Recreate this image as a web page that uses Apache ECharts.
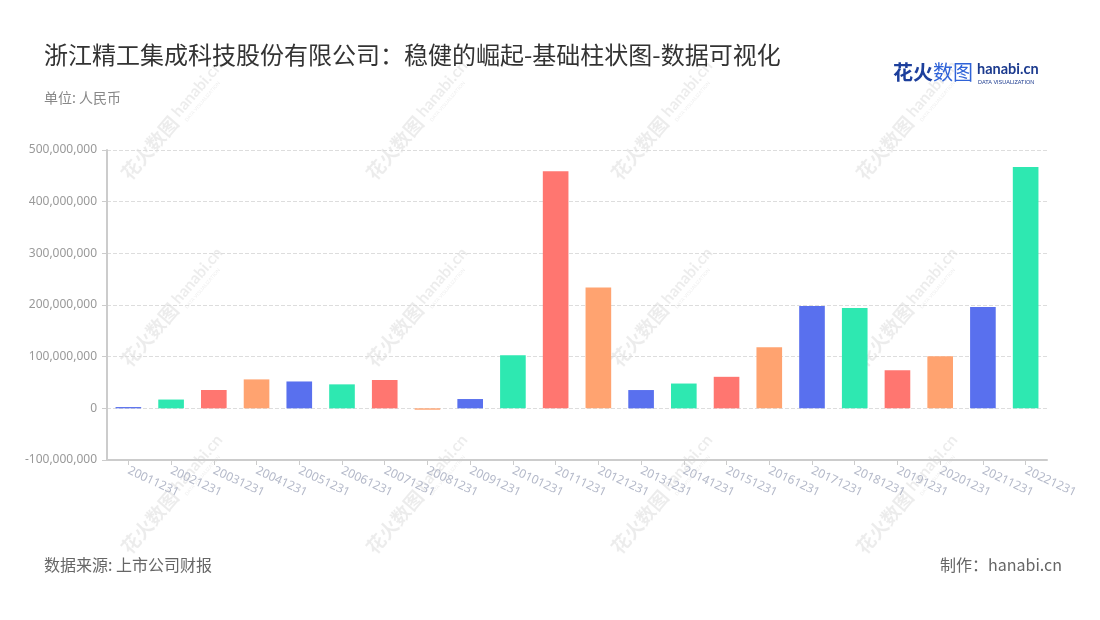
<!DOCTYPE html>
<html>
<head>
<meta charset="utf-8">
<script src="https://cdn.jsdelivr.net/npm/echarts@6/dist/echarts.min.js"></script>
<style>
html,body{margin:0;padding:0;background:#fff;}
#chart{width:1100px;height:620px;}
</style>
</head>
<body>
<div id="chart"></div>
<script>
// ---- data ----
var categories = ['20011231','20021231','20031231','20041231','20051231','20061231','20071231','20081231','20091231','20101231','20111231','20121231','20131231','20141231','20151231','20161231','20171231','20181231','20191231','20201231','20211231','20221231'];
var values = [2500000, 17000000, 35500000, 56000000, 52000000, 46400000, 54800000, -2700000, 18000000, 102600000, 459000000, 234000000, 35400000, 48000000, 61000000, 118000000, 198000000, 194000000, 73500000, 101000000, 196000000, 467000000];
var yTicks = [-100000000, 0, 100000000, 200000000, 300000000, 400000000, 500000000];
var titleText = '浙江精工集成科技股份有限公司：稳健的崛起-基础柱状图-数据可视化';
var unitText = '单位: 人民币';
var sourceText = '数据来源: 上市公司财报';
var makerText = '制作：hanabi.cn';
var palette = ['#5970ee', '#2ee8b1', '#ff7670', '#ffa370'];

var CJK = '"Noto Sans CJK SC", "Noto Sans", sans-serif';

function addCommas(v){
  var s = Math.abs(v).toString().replace(/\B(?=(\d{3})+(?!\d))/g, ',');
  return (v < 0 ? '-' : '') + s;
}

// watermark groups
var wmColor = 'rgba(0,0,0,0.075)';
function watermark(x, y){
  return {
    type: 'group', x: x, y: y, rotation: 0.86, silent: true, z: 0,
    children: [
      {type:'text', x:0, y:0, style:{text:'花火数图', fill:wmColor, font:'bold 19px ' + CJK, textVerticalAlign:'bottom'}},
      {type:'text', x:80, y:-4, style:{text:'hanabi.cn', fill:wmColor, font:'bold 16px Lato, sans-serif', textVerticalAlign:'bottom'}},
      {type:'text', x:82, y:3, style:{text:'DATA VISUALIZATION', fill:wmColor, font:'5px sans-serif', textVerticalAlign:'bottom'}}
    ]
  };
}
var graphics = [];
[132, 377, 622, 867].forEach(function(x){
  [183, 370, 557].forEach(function(y){ graphics.push(watermark(x, y)); });
});
// logo
graphics.push({type:'text', left:893, top:62, z:10, style:{text:'花火', fill:'#1d3f9c', font:'bold 20px ' + CJK}});
graphics.push({type:'text', left:933, top:62, z:10, style:{text:'数图', fill:'#2f63d8', font:'20px ' + CJK}});
graphics.push({type:'text', left:977, top:62, z:10, style:{text:'hanabi.cn', fill:'#1b3a8e', font:'bold 14.5px Lato, sans-serif'}});
graphics.push({type:'text', left:978, top:79, z:10, style:{text:'DATA VISUALIZATION', fill:'#1b3a8e', font:'5.5px sans-serif'}});
// footer
graphics.push({type:'text', left:44, top:557, z:10, style:{text:sourceText, fill:'#666', font:'16px ' + CJK}});
graphics.push({type:'text', right:38, top:557, z:10, style:{text:makerText, fill:'#666', font:'16px ' + CJK}});

var chart = echarts.init(document.getElementById('chart'));
chart.setOption({
  animation: false,
  backgroundColor: '#fff',
  color: palette,
  title: [
    {text: titleText, left: 39, top: 38, textStyle:{fontSize:24, fontWeight:'normal', color:'#333', fontFamily:CJK}},
    {text: unitText, left: 39, top: 86, textStyle:{fontSize:14, fontWeight:'normal', color:'#888', fontFamily:CJK}}
  ],
  graphic: graphics,
  grid: {left:107, right:53, top:150, bottom:160, containLabel:false},
  xAxis: {
    type: 'category',
    data: categories,
    axisLine: {onZero:false, lineStyle:{color:'#ccc', width:2}},
    axisTick: {show:true, alignWithLabel:true, length:5, lineStyle:{color:'#ccc'}},
    axisLabel: {rotate:-25, color:'#b4b9c9', fontSize:12, margin:10, fontFamily:'"Noto Sans", sans-serif', interval:0}
  },
  yAxis: {
    type: 'value',
    min: yTicks[0], max: yTicks[yTicks.length-1], interval: 100000000,
    axisLine: {show:true, lineStyle:{color:'#ccc', width:2}},
    axisTick: {show:true, length:5, lineStyle:{color:'#ccc'}},
    axisLabel: {color:'#999', fontSize:12, margin:10, fontFamily:'"Noto Sans", sans-serif', formatter:addCommas},
    splitLine: {lineStyle:{color:'#ddd', type:'dashed'}}
  },
  series: [{
    type: 'bar',
    data: values,
    colorBy: 'data',
    barWidth: '60%'
  }]
});
</script>
</body>
</html>
